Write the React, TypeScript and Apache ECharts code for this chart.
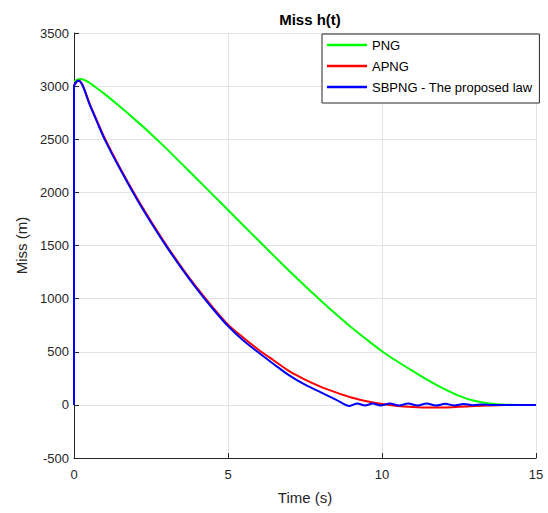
import React, { useEffect, useRef } from "react";
import * as echarts from "echarts";

const seriesNames = ["PNG", "APNG", "SBPNG - The proposed law"];

const pngT = [0, 0.2, 0.4, 0.7, 1, 1.5, 2, 2.5, 3, 3.5, 4, 4.5, 5, 5.5, 6, 6.5, 7, 7.5, 8, 8.5, 9, 9.5, 10, 10.5, 11, 11.5, 12, 12.5, 13, 13.5, 14, 14.5, 15];
const pngH = [3045, 3067, 3050, 2990, 2925, 2805, 2680, 2550, 2412, 2268, 2124, 1979, 1834, 1689, 1544, 1400, 1258, 1118, 985, 855, 730, 615, 505, 408, 318, 230, 152, 85, 38, 12, 1, 0, 0];

const apngT = [0, 0.08, 0.15, 0.25, 0.35, 0.5, 0.75, 1, 1.5, 2, 2.5, 3, 3.5, 4, 4.5, 5, 5.5, 6, 6.5, 7, 7.5, 8, 8.5, 9, 9.5, 10, 10.5, 11, 11.5, 12, 12.5, 13, 13.5, 14, 14.5, 15];
const apngH = [3000, 3040, 3052, 3025, 2960, 2840, 2672, 2508, 2228, 1968, 1728, 1503, 1293, 1098, 920, 755, 632, 517, 415, 315, 238, 172, 118, 70, 35, 8, -10, -20, -25, -24, -18, -11, -5, -1, 0, 0];

const sbT = [0, 0, 0.08, 0.15, 0.25, 0.35, 0.5, 0.75, 1, 1.5, 2, 2.5, 3, 3.5, 4, 4.5, 5, 5.5, 6, 6.5, 7, 7.5, 8, 8.5, 8.95, 9.2, 9.45, 9.7, 9.95, 10.25, 10.55, 10.85, 11.15, 11.45, 11.75, 12.05, 12.35, 12.65, 12.95, 13.25, 13.6, 15];
const sbH = [0, 3000, 3040, 3050, 3022, 2955, 2832, 2662, 2497, 2217, 1957, 1717, 1492, 1282, 1087, 907, 742, 605, 490, 380, 275, 190, 120, 50, -10, 14, -6, 12, -6, 12, -6, 12, -6, 12, -6, 10, -5, 8, -3, 4, 0, 0];

const xTicks = { min: 0, max: 15, interval: 5 };
const yTicks = { min: -500, max: 3500, interval: 500 };

const zip = (t: number[], h: number[]) => t.map((v, i) => [v, h[i]]);

export default function App() {
  const ref = useRef<HTMLDivElement>(null);
  useEffect(() => {
    if (!ref.current) return;
    const chart = echarts.init(ref.current, null, { renderer: "svg" });
    const font = "'Liberation Sans', Arial, sans-serif";
    const axisColor = "#262626";
    const colors = ["#00ff00", "#ff0000", "#0000ff"];
    const datasets = [zip(pngT, pngH), zip(apngT, apngH), zip(sbT, sbH)];
    chart.setOption({
      animation: false,
      backgroundColor: "#ffffff",
      textStyle: { fontFamily: font },
      title: {
        text: "Miss h(t)",
        left: 305,
        textAlign: "center",
        top: 7,
        textStyle: { fontFamily: font, fontSize: 15, fontWeight: "bold", color: "#000" },
      },
      legend: {
        orient: "vertical",
        left: 322,
        top: 34,
        data: seriesNames,
        icon: "rect",
        itemWidth: 40,
        itemHeight: 2.5,
        itemGap: 7,
        padding: [4, 7, 9, 5],
        borderColor: axisColor,
        borderWidth: 1,
        backgroundColor: "#fff",
        textStyle: { fontFamily: font, fontSize: 13, color: "#000", lineHeight: 14, height: 14 },
      },
      grid: { left: 74, right: 12, top: 33, bottom: 55 },
      xAxis: {
        type: "value",
        min: xTicks.min,
        max: xTicks.max,
        interval: xTicks.interval,
        name: "Time (s)",
        nameLocation: "middle",
        nameGap: 32,
        nameTextStyle: { fontFamily: font, fontSize: 15, color: axisColor },
        axisLine: { show: true, onZero: false, lineStyle: { color: axisColor, width: 1 } },
        axisTick: { show: true, inside: true, length: 5, lineStyle: { color: axisColor } },
        axisLabel: { fontFamily: font, fontSize: 13, color: axisColor, margin: 10, formatter: (v: number) => String(v) },
        splitLine: { show: true, lineStyle: { color: "#e3e3e3", width: 1 } },
      },
      yAxis: {
        type: "value",
        min: yTicks.min,
        max: yTicks.max,
        interval: yTicks.interval,
        name: "Miss (m)",
        nameLocation: "middle",
        nameGap: 39,
        nameTextStyle: { fontFamily: font, fontSize: 15, color: axisColor },
        axisLine: { show: true, onZero: false, lineStyle: { color: axisColor, width: 1 } },
        axisTick: { show: true, inside: true, length: 5, lineStyle: { color: axisColor } },
        axisLabel: { fontFamily: font, fontSize: 13, color: axisColor, margin: 5, formatter: (v: number) => String(v) },
        splitLine: { show: true, lineStyle: { color: "#e3e3e3", width: 1 } },
      },
      series: seriesNames.map((name, i) => ({
        name,
        type: "line",
        data: datasets[i],
        symbol: "none",
        smooth: 0.3,
        lineStyle: { color: colors[i], width: 2 },
        itemStyle: { color: colors[i] },
      })),
    });
    return () => chart.dispose();
  }, []);
  return <div ref={ref} style={{ width: 548, height: 513, position: "absolute", left: 0, top: 0 }} />;
}
